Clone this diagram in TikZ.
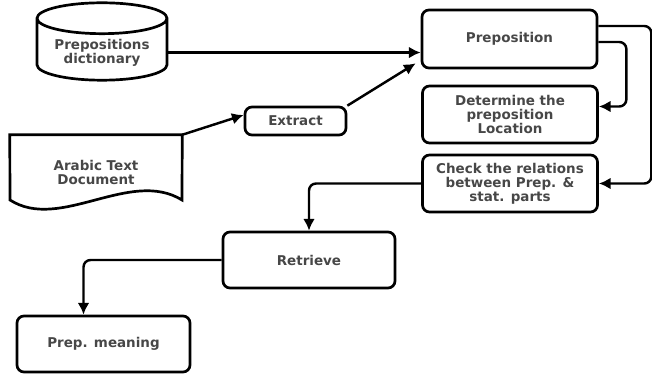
\documentclass[tikz,border=0pt]{standalone}
\usepackage{fontspec}
\setmainfont{DejaVu Sans}
\usetikzlibrary{arrows.meta,calc,positioning,shapes.geometric}

\tikzset{
 box/.style={draw,line width=2.3pt,rounded corners=6pt,align=center,
  font=\bfseries\fontsize{11.5}{12}\selectfont,text=black!72},
 flow/.style={-{Latex[length=10pt,width=10pt]},line width=2.1pt,rounded corners=6pt},
}

\begin{document}
\begin{tikzpicture}[x=0.03cm,y=-0.03cm]
 \useasboundingbox (0,0) rectangle (652,374);
 % sources
 \node[box,cylinder,shape border rotate=90,aspect=0.3,rounded corners=0pt,anchor=shape center,
  minimum width=3.9cm,minimum height=2.01cm] (dict) at (102,41.5) {Prepositions\\dictionary};
 \node[align=center,font=\bfseries\fontsize{11.5}{12}\selectfont,text=black!72,
  minimum width=5.16cm,minimum height=2.25cm] (doc) at (96,172.5) {Arabic Text\\Document};
 \draw[line width=2.3pt] (doc.north west) -- (doc.north east) -- (182,200)
  .. controls (130,168) and (60,232) .. (10,200) -- cycle;
 % steps
 \node[box,minimum width=5.25cm,minimum height=1.74cm] (prep) at (509.5,39) {Preposition};
 \node[box,minimum width=5.25cm,minimum height=1.71cm] (det) at (510,114.5) {Determine the\\preposition\\Location};
 \node[box,minimum width=5.25cm,minimum height=1.71cm] (check) at (510,183.5) {Check the relations\\between Prep. \&\\stat. parts};
 \node[box,minimum width=3.03cm,minimum height=0.84cm] (extract) at (295.5,121) {Extract};
 \node[box,minimum width=5.16cm,minimum height=1.68cm] (retr) at (309,260) {Retrieve};
 \node[box,minimum width=5.19cm,minimum height=1.68cm] (meaning) at (103.5,344) {Prep. meaning};
 % arrows
 \draw[flow] (dict.east) -- (dict.east -| prep.west);
 \draw[flow] (doc.north east) -- ([shift={(0,-6)}]extract.west);
 \draw[flow] (extract.north east) -- ([shift={(-5,-6)}]prep.south west);
 \draw[flow] ([shift={(0,3)}]prep.east) -- ++(28,0) |- ([shift={(0,-8)}]det.east);
 \draw[flow] ([shift={(0,-13)}]prep.east) -- ++(53,0) |- (check.east);
 \draw[flow] (check.west) -| (retr.north);
 \draw[flow] (retr.west) -| ([shift={(-20,0)}]meaning.north);
\end{tikzpicture}
\end{document}
